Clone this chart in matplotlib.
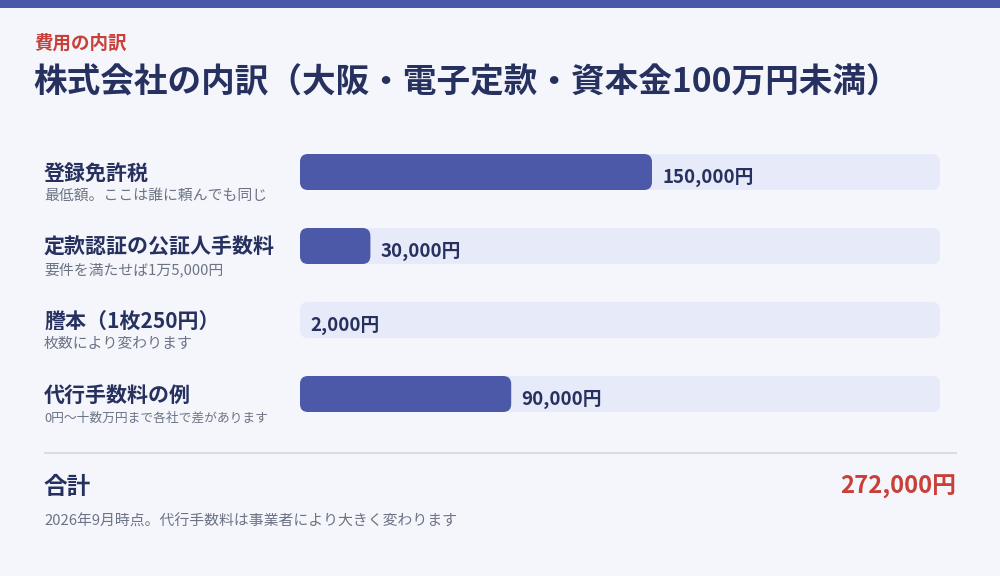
import matplotlib
matplotlib.use("Agg")
import matplotlib.pyplot as plt
from matplotlib.patches import FancyBboxPatch, Rectangle

plt.rcParams['font.family'] = ['Noto Sans CJK JP', 'DejaVu Sans']

# ---- data ----
eyebrow = "費用の内訳"
title = "株式会社の内訳（大阪・電子定款・資本金100万円未満）"
items = ["登録免許税", "定款認証の公証人手数料", "謄本（1枚250円）", "代行手数料の例"]
notes = ["最低額。ここは誰に頼んでも同じ", "要件を満たせば1万5,000円",
         "枚数により変わります", "0円〜十数万円まで各社で差があります"]
values = [150000, 30000, 2000, 90000]
total_label = "合計"
footnote = "2026年9月時点。代行手数料は事業者により大きく変わります"

total = sum(values)

# ---- style ----
BG = "#f5f6fb"
BAND = "#4a58a8"
BAR = "#4b59a8"
TRACK = "#e7eaf8"
NAVY = "#27315f"
GRAY = "#6b7385"
RED = "#c8403a"
note_sizes = [10.7, 10.7, 10.7, 9.2]

W, H = 1000, 576
fig = plt.figure(figsize=(W / 100, H / 100), dpi=100, facecolor=BG)
ax0 = fig.add_axes([0, 0, 1, 1])
ax0.set_xlim(0, W)
ax0.set_ylim(H, 0)
ax0.axis("off")
ax0.set_facecolor(BG)

ax0.add_patch(Rectangle((0, 0), W, 8, color=BAND, lw=0))
ax0.text(34, 43, eyebrow, color=RED, fontsize=13.3, fontweight="bold", va="center")
ax0.text(33.5, 83, title, color=NAVY, fontsize=24.2, fontweight="bold", va="center")

row0, pitch = 173, 74
for i, (lab, note) in enumerate(zip(items, notes)):
    ax0.text(44, row0 + pitch * i, lab, color=NAVY, fontsize=15.1,
             fontweight="bold", va="center")
    ax0.text(44, row0 + 23 + pitch * i, note, color=GRAY,
             fontsize=note_sizes[i], va="center")

# bars axes
left_px, width_px = 300, 640
top_px = 172 - pitch / 2
ax = fig.add_axes([left_px / W, 1 - (top_px + pitch * 4) / H, width_px / W, pitch * 4 / H])
ax.set_xlim(0, total)
ax.set_ylim(len(values) - 0.5, -0.5)
ax.axis("off")

bar_h = 36 / pitch
r_px = 8
rs = r_px * total / width_px
ma = (r_px / pitch) / rs
off = 10 * total / width_px

for i, v in enumerate(values):
    ax.add_patch(FancyBboxPatch((0, i - bar_h / 2), total, bar_h,
                                boxstyle=f"round,pad=0,rounding_size={rs}",
                                mutation_aspect=ma, fc=TRACK, ec="none"))
    pct = int(v * 100 / total)
    bw = total * pct / 100
    if bw > 0:
        ax.add_patch(FancyBboxPatch((0, i - bar_h / 2), bw, bar_h,
                                    boxstyle=f"round,pad=0,rounding_size={rs}",
                                    mutation_aspect=ma, fc=BAR, ec="none"))
    ax.text(bw + off, i + 5 / pitch, f"{v:,}円", color=NAVY, fontsize=13.5,
            fontweight="bold", va="center", ha="left")

ax0.plot([44, 957], [453, 453], color="#d8dce6", lw=1.5, solid_capstyle="butt")
ax0.text(44, 487, total_label, color=NAVY, fontsize=17, fontweight="bold", va="center")
ax0.text(956, 487, f"{total:,}円", color=RED, fontsize=17.2, fontweight="bold",
         va="center", ha="right")
ax0.text(44, 521, footnote, color=GRAY, fontsize=10.7, va="center")

fig.savefig("out.png", dpi=100, facecolor=BG)
